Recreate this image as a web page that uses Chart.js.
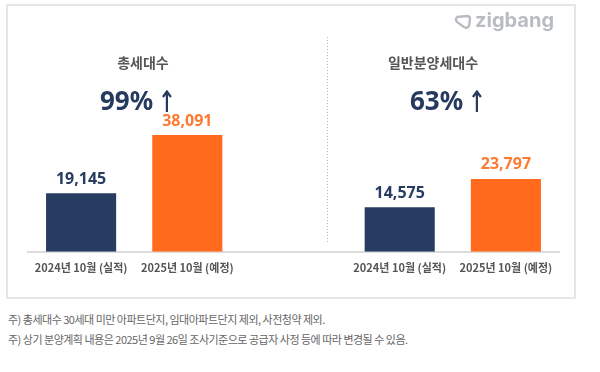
<!DOCTYPE html>
<html>
<head>
<meta charset="utf-8">
<script src="https://cdn.jsdelivr.net/npm/chart.js@4/dist/chart.umd.min.js"></script>
<style>
  body { margin: 0; background: #fff; font-family: "Noto Sans CJK KR", "Noto Sans", sans-serif; }
  #wrap { position: relative; width: 600px; height: 372px; overflow: hidden; }
  #box { position: absolute; left: 6px; top: 4px; width: 566px; height: 291px; border: 2px solid #e6e6e6; }
  #chartBox { position: absolute; left: 0; top: 0; width: 600px; height: 300px; }
  .t { position: absolute; transform: translate(-50%, -50%); white-space: nowrap; font-weight: bold; }
  .title { font-size: 14px; color: #555; }
  .pct { font-size: 26px; color: #253a5e; font-family: "Noto Sans", sans-serif; }
  .pct svg { vertical-align: -2px; margin-left: 9px; }
  .note { position: absolute; left: 8px; font-size: 11px; color: #666; letter-spacing: -0.5px; white-space: nowrap; }
  #logo { position: absolute; left: 454px; top: 8px; color: #b9bdc2; font-family: Inter, sans-serif; font-weight: 700; font-size: 20px; line-height: 24px; }
  #logo svg { vertical-align: -3px; margin-right: 3px; }
</style>
</head>
<body>
<div id="wrap">
  <div id="box"></div>
  <div id="chartBox"><canvas id="myBarChart"></canvas></div>
  <div id="logo"><svg width="18" height="16" viewBox="0 0 18 16"><path d="M3 3 L13 2 Q16 2 16 5 L15 12 Q13 15 10 13 L3 8 Q1 5 3 3 Z" fill="none" stroke="#b9bdc2" stroke-width="2.4"/></svg>zigbang</div>
  <div class="t title" style="left:143px; top:62px;">총세대수</div>
  <div class="t pct" style="left:136px; top:100px;">99%<svg width="10" height="22" viewBox="0 0 10 22"><path d="M5 2 L5 22 M1 7 L5 1.5 L9 7" fill="none" stroke="#253a5e" stroke-width="2.2"/></svg></div>
  <div class="t title" style="left:433px; top:62px;">일반분양세대수</div>
  <div class="t pct" style="left:446px; top:100px;">63%<svg width="10" height="22" viewBox="0 0 10 22"><path d="M5 2 L5 22 M1 7 L5 1.5 L9 7" fill="none" stroke="#253a5e" stroke-width="2.2"/></svg></div>
  <div class="note" style="top:311px;">주) 총세대수 30세대 미만 아파트단지, 임대아파트단지 제외, 사전청약 제외.</div>
  <div class="note" style="top:331px;">주) 상기 분양계획 내용은 2025년 9월 26일 조사기준으로 공급자 사정 등에 따라 변경될 수 있음.</div>
</div>
<script>
// categories (middle slot is the gap between the two panels)
var labels = ["2024년 10월 (실적)", "2025년 10월 (예정)", "", "2024년 10월 (실적)", "2025년 10월 (예정)"];
var totalUnits = [19145, 38091];      // 총세대수
var generalUnits = [14575, 23797];    // 일반분양세대수
var values = totalUnits.concat([null], generalUnits);

var navy = '#263c60';
var orange = '#ff6a1c';
var barColors = [navy, orange, 'rgba(0,0,0,0)', navy, orange];
var labelColors = ['#263c60', '#ff7a30', '', '#263c60', '#ff7a30'];

// draws the value over each bar and the dotted divider
var extras = {
    id: 'extras',
    afterDatasetsDraw: function (chart) {
        var ctx = chart.ctx;
        var meta = chart.getDatasetMeta(0);
        ctx.save();
        ctx.font = 'bold 16px "Noto Sans", sans-serif';
        ctx.textAlign = 'center';
        ctx.textBaseline = 'bottom';
        meta.data.forEach(function (bar, i) {
            var v = values[i];
            if (v == null) return;
            ctx.fillStyle = labelColors[i];
            ctx.fillText(v.toLocaleString('en-US'), bar.x, bar.y - 6);
        });
        var x = chart.scales.x;
        var step = x.getPixelForValue(3) - x.getPixelForValue(2);
        var dx = Math.round(x.getPixelForValue(2) + step * 0.32) + 0.5;
        ctx.strokeStyle = '#bbbbbb';
        ctx.lineWidth = 1;
        ctx.setLineDash([1, 2]);
        ctx.beginPath();
        ctx.moveTo(dx, 37);
        ctx.lineTo(dx, chart.chartArea.bottom - 9);
        ctx.stroke();
        ctx.restore();
    }
};

var chart = new Chart(document.getElementById('myBarChart').getContext('2d'), {
    type: 'bar',
    data: {
        labels: labels,
        datasets: [{
            data: values,
            backgroundColor: barColors,
            barPercentage: 0.66,
            categoryPercentage: 1
        }]
    },
    options: {
        responsive: true,
        maintainAspectRatio: false,
        animation: false,
        layout: { padding: { left: 28, right: 41, top: 68, bottom: 17 } },
        plugins: { legend: { display: false }, tooltip: { enabled: false } },
        scales: {
            x: {
                grid: { display: false, drawTicks: false },
                border: { display: true, color: '#dcdcdc', width: 2 },
                ticks: { color: '#555', padding: 9, font: { size: 11, weight: 'bold', family: '"Noto Sans CJK KR", sans-serif' } }
            },
            y: {
                display: false,
                min: 0,
                max: 60000
            }
        }
    },
    plugins: [extras]
});
</script>
</body>
</html>
